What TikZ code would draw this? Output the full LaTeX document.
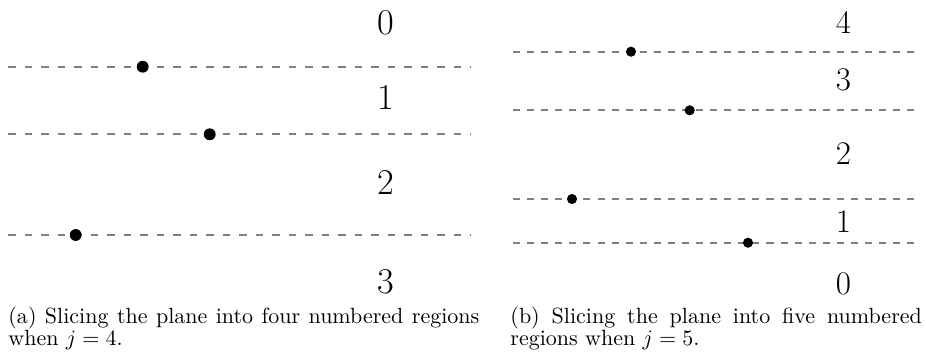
\documentclass[tikz,border=0pt]{standalone}
\usetikzlibrary{positioning}
\definecolor{cline}{HTML}{808080}
\tikzset{
  cut/.style={draw=cline, line width=0.9pt, dash pattern=#1},
  cut/.default={on 3.6pt off 3.9pt},
  dot/.style={circle, fill=black, inner sep=0pt, minimum size=#1},
  dot/.default=5.4pt,
  region/.style={font=\fontsize{#1}{#1}\selectfont, inner sep=0pt},
  caption/.style={font={\fontsize{10}{10}\selectfont\hyphenpenalty=10000\tolerance=1000},
                  text width=#1, align=justify, inner sep=0pt, anchor=base west},
}
\begin{document}
\begin{tikzpicture}[x=0.4545pt, y=-0.4545pt]
  \useasboundingbox (0,0) rectangle (926,354);
  % (a) four regions: index, height of the cut, position of the point on it
  \foreach \i/\y/\x in {1/66.7/142.7, 2/134.3/209.7, 3/235/75.7} {
    \coordinate (Aw\i) at (8,\y);
    \coordinate (Ae\i) at (471,\y);
    \draw[cut] (Aw\i) -- (Ae\i);
    \node[dot] (Ap\i) at (\x,\y) {};
  }
  \foreach \i/\y in {0/22.5, 1/97.5, 2/182, 3/282}
    \node[region=16.5] (Ar\i) at (386,\y) {\i};
  % (b) five regions, numbered from the bottom
  \foreach \i/\y/\x in {1/51.7/631, 2/110.3/689.7, 3/199/572, 4/242.7/748} {
    \coordinate (Bw\i) at (513,\y);
    \coordinate (Be\i) at (917,\y);
    \draw[cut={on 3.2pt off 3.2pt}] (Bw\i) -- (Be\i);
    \node[dot=4.6pt] (Bp\i) at (\x,\y) {};
  }
  \foreach \i/\y in {4/22, 3/80, 2/154, 1/222, 0/284}
    \node[region=15] (Br\i) at (843.5,\y) {\i};
  % captions
  \node[caption=214pt] (capA) at (8,323)
    {(a) Slicing the plane into four numbered regions when $j = 4$.};
  \node[caption=187pt] (capB) at (510,323)
    {(b) Slicing the plane into five numbered regions when $j = 5$.};
\end{tikzpicture}
\end{document}
